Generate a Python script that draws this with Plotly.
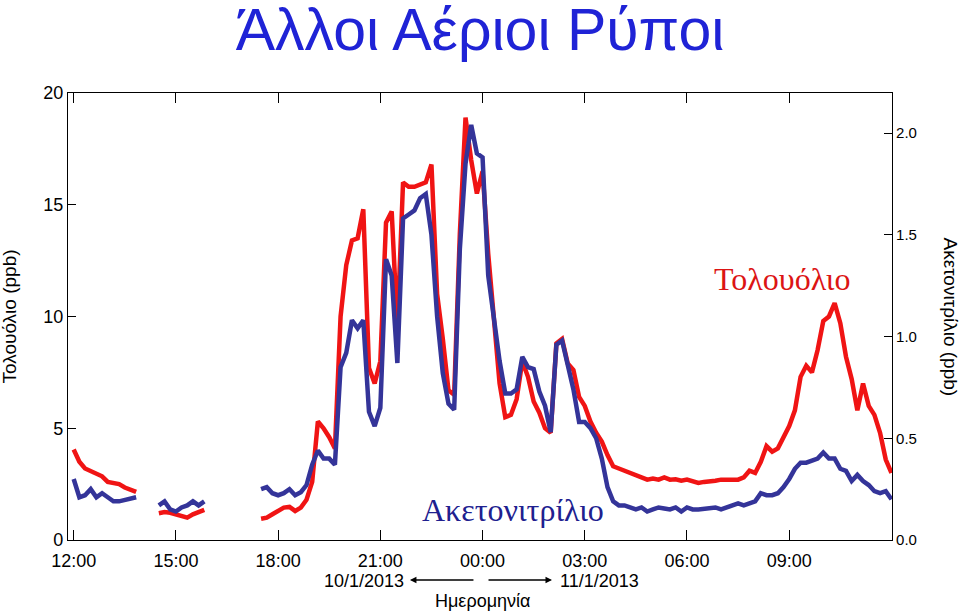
import pandas as pd
import plotly.graph_objects as go

# 10-minute samples, 10/1/2013 12:00 -> 11/1/2013 12:00 (None = no data)
times = pd.date_range('2013-01-10 12:00', periods=145, freq='10min')

toluene = [
    4.05, 3.5, 3.2, 3.1, 2.95, 2.85, 2.6, 2.55, 2.5, 2.35, 2.25, 2.15,
    None, None, None, 1.2, 1.25, 1.22, 1.15, 1.1, 1.0, 1.15, 1.25, 1.35,
    None, None, None, None, None, None, None, None, None, 0.95, 1.0, 1.15,
    1.3, 1.45, 1.48, 1.3, 1.45, 1.8, 2.6, 5.3, 5.0, 4.6, 4.1, 10.0,
    12.3, 13.4, 13.5, 14.8, 7.7, 7.0, 8.0, 14.2, 14.7, 9.5, 16.0, 15.8,
    15.8, 15.9, 16.0, 16.8, 11.0, 9.0, 6.7, 6.5, 13.7, 18.9, 17.0, 15.5,
    16.5, 12.8, 9.7, 7.0, 5.5, 5.6, 6.3, 8.0, 7.3, 6.2, 5.7, 5.0,
    4.8, 8.8, 9.0, 7.9, 7.6, 6.4, 6.0, 5.3, 4.8, 4.4, 3.8, 3.3,
    3.2, 3.1, 3.0, 2.85, 2.8, 2.7, 2.75, 2.7, 2.8, 2.7, 2.72, 2.65,
    2.7, 2.6, 2.55, 2.6, 2.6, 2.65, 2.7, 2.7, 2.72, 2.7, 2.8, 3.1,
    3.0, 3.5, 4.2, 3.95, 4.1, 4.6, 5.1, 5.8, 7.3, 7.8, 7.5, 8.5,
    9.8, 10.0, 10.6, 9.7, 8.2, 7.2, 5.8, 7.0, 6.0, 5.6, 4.8, 3.6,
    3.0,
]

acetonitrile = [
    0.30, 0.21, 0.22, 0.25, 0.21, 0.23, 0.21, 0.19, 0.19, 0.195, 0.20, 0.21,
    None, None, None, 0.17, 0.19, 0.15, 0.14, 0.16, 0.17, 0.19, 0.17, 0.19,
    None, None, None, None, None, None, None, None, None, 0.25, 0.26, 0.23,
    0.22, 0.23, 0.25, 0.22, 0.235, 0.27, 0.37, 0.44, 0.40, 0.40, 0.37, 0.85,
    0.92, 1.08, 1.04, 1.08, 0.63, 0.56, 0.65, 1.38, 1.30, 0.87, 1.58, 1.60,
    1.62, 1.68, 1.70, 1.50, 1.10, 0.82, 0.67, 0.64, 1.43, 1.85, 2.04, 1.90,
    1.88, 1.30, 1.10, 0.88, 0.72, 0.72, 0.74, 0.90, 0.85, 0.84, 0.73, 0.66,
    0.53, 0.96, 0.98, 0.86, 0.74, 0.58, 0.58, 0.55, 0.50, 0.40, 0.26, 0.19,
    0.17, 0.17, 0.16, 0.15, 0.16, 0.14, 0.15, 0.16, 0.155, 0.15, 0.16, 0.14,
    0.16, 0.15, 0.15, 0.155, 0.16, 0.16, 0.15, 0.16, 0.17, 0.18, 0.17, 0.18,
    0.19, 0.23, 0.22, 0.22, 0.23, 0.26, 0.30, 0.35, 0.38, 0.38, 0.39, 0.40,
    0.43, 0.40, 0.40, 0.35, 0.34, 0.29, 0.32, 0.29, 0.27, 0.24, 0.23, 0.24,
    0.20,
]

xtick_vals = ['2013-01-10 12:00', '2013-01-10 15:00', '2013-01-10 18:00',
              '2013-01-10 21:00', '2013-01-11 00:00', '2013-01-11 03:00',
              '2013-01-11 06:00', '2013-01-11 09:00']
tol_ticks = [0, 5, 10, 15, 20]
acn_ticks = [0.0, 0.5, 1.0, 1.5, 2.0]

sans = 'Liberation Sans, Arial, sans-serif'
serif = 'Liberation Serif, Times New Roman, serif'

fig = go.Figure()
fig.add_trace(go.Scatter(x=times, y=toluene, mode='lines', name='Τολουόλιο',
                         line=dict(color='#f01414', width=4.5), yaxis='y'))
fig.add_trace(go.Scatter(x=times, y=acetonitrile, mode='lines', name='Ακετονιτρίλιο',
                         line=dict(color='#343499', width=4.5), yaxis='y2'))

axis_common = dict(showline=True, linecolor='black', linewidth=1.2, showgrid=False,
                   zeroline=False, ticks='inside', tickcolor='black')

fig.update_layout(
    width=960, height=613,
    margin=dict(l=68, r=68, t=93, b=73, autoexpand=False),
    paper_bgcolor='white', plot_bgcolor='white',
    showlegend=False,
    font=dict(family=sans, color='black', size=18),
    title=dict(text='Άλλοι Αέριοι Ρύποι', x=0.5, xanchor='center', y=0.952, yanchor='middle',
               font=dict(family=sans, size=59, color='#1f23d6')),
    xaxis=dict(type='date', range=['2013-01-10 11:50', '2013-01-11 12:01'],
               tickvals=xtick_vals, tickformat='%H:%M', ticklen=10, mirror='ticks',
               ticklabelstandoff=4, tickfont=dict(size=18), **axis_common),
    yaxis=dict(range=[0, 20], tickvals=tol_ticks, ticklen=8, tickfont=dict(size=18),
               **axis_common),
    yaxis2=dict(range=[0, 2.197], tickvals=acn_ticks, tickformat='.1f', ticklen=8,
                overlaying='y', side='right', tickfont=dict(size=15), **axis_common),
)

annotations = [
    dict(text='Τολουόλιο (ppb)', x=-0.0704, y=0.5, textangle=-90, font=dict(size=19)),
    dict(text='Ακετονιτρίλιο (ppb)', x=1.0704, y=0.5, textangle=90, font=dict(size=19)),
    dict(text='Τολουόλιο', x=0.8665, y=0.584, font=dict(family=serif, size=32, color='#dc1414')),
    dict(text='Ακετονιτρίλιο', x=0.540, y=0.067, font=dict(family=serif, size=32, color='#20208f')),
    dict(text='10/1/2013', x=0.359, y=-0.0917, font=dict(size=18)),
    dict(text='11/1/2013', x=0.6456, y=-0.0917, font=dict(size=18)),
    dict(text='Ημερομηνία', x=0.5036, y=-0.1365, font=dict(size=18)),
]
for a in annotations:
    fig.add_annotation(xref='paper', yref='paper', showarrow=False,
                       xanchor='center', yanchor='middle', **a)

# date arrows
fig.add_annotation(xref='paper', yref='paper', x=0.415, y=-0.0895, text='',
                   showarrow=True, ax=65, ay=0, arrowhead=2, arrowsize=1,
                   arrowwidth=1.3, arrowcolor='black')
fig.add_annotation(xref='paper', yref='paper', x=0.5874, y=-0.0895, text='',
                   showarrow=True, ax=-65, ay=0, arrowhead=2, arrowsize=1,
                   arrowwidth=1.3, arrowcolor='black')

fig.write_html('out.html', config={'displayModeBar': False},
               post_script="document.body.style.margin='0';")
